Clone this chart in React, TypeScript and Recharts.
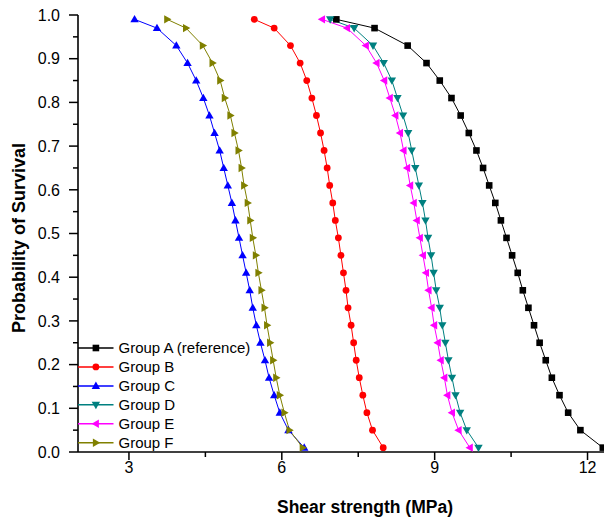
import { LineChart, Line, XAxis, YAxis, Legend } from 'recharts';

// survival probability of each ranked specimen (same for every group)
const PROB = [
  0.99, 0.97, 0.93, 0.89, 0.85, 0.81, 0.77, 0.73, 0.69, 0.65, 0.61, 0.57, 0.53,
  0.49, 0.45, 0.41, 0.37, 0.33, 0.29, 0.25, 0.21, 0.17, 0.13, 0.09, 0.05, 0.01,
];

// shear strength (MPa) per group, in the same order as PROB
const GROUP_A = [
  7.07, 7.82, 8.47, 8.84, 9.1, 9.33, 9.51, 9.67, 9.82, 9.95, 10.07, 10.19, 10.3,
  10.41, 10.52, 10.63, 10.73, 10.84, 10.95, 11.06, 11.18, 11.3, 11.45, 11.62, 11.86, 12.3,
];
const GROUP_B = [
  5.46, 5.85, 6.17, 6.36, 6.49, 6.59, 6.68, 6.76, 6.83, 6.89, 6.94, 7.0, 7.05,
  7.11, 7.16, 7.21, 7.26, 7.3, 7.36, 7.41, 7.46, 7.52, 7.59, 7.67, 7.78, 7.99,
];
const GROUP_C = [
  3.11, 3.55, 3.93, 4.15, 4.32, 4.46, 4.58, 4.68, 4.78, 4.86, 4.94, 5.02, 5.09,
  5.16, 5.23, 5.3, 5.37, 5.43, 5.5, 5.58, 5.67, 5.75, 5.85, 5.96, 6.13, 6.44,
];
const GROUP_D = [
  6.95, 7.42, 7.79, 8.0, 8.16, 8.27, 8.38, 8.48, 8.55, 8.62, 8.69, 8.76, 8.82,
  8.87, 8.93, 8.98, 9.03, 9.1, 9.15, 9.21, 9.27, 9.34, 9.41, 9.5, 9.63, 9.86,
];
const GROUP_E = [
  6.79, 7.28, 7.65, 7.86, 8.01, 8.12, 8.23, 8.32, 8.39, 8.46, 8.52, 8.59, 8.65,
  8.71, 8.77, 8.83, 8.88, 8.94, 8.99, 9.06, 9.12, 9.19, 9.25, 9.34, 9.47, 9.69,
];
const GROUP_F = [
  3.75, 4.12, 4.45, 4.64, 4.79, 4.88, 4.99, 5.07, 5.15, 5.21, 5.26, 5.33, 5.38,
  5.43, 5.49, 5.54, 5.6, 5.66, 5.71, 5.77, 5.83, 5.89, 5.96, 6.05, 6.15, 6.41,
];

const X_TICKS = [3, 4.5, 6, 7.5, 9, 10.5, 12];
const Y_TICKS = [
  0, 0.05, 0.1, 0.15, 0.2, 0.25, 0.3, 0.35, 0.4, 0.45, 0.5, 0.55, 0.6, 0.65, 0.7,
  0.75, 0.8, 0.85, 0.9, 0.95, 1,
];

const FONT = '"Liberation Sans", Arial, sans-serif';

type Shape = 'square' | 'circle' | 'up' | 'down' | 'left' | 'right';

const GROUPS: { name: string; color: string; shape: Shape; xs: number[] }[] = [
  { name: 'Group A (reference)', color: '#000000', shape: 'square', xs: GROUP_A },
  { name: 'Group B', color: '#FF0000', shape: 'circle', xs: GROUP_B },
  { name: 'Group C', color: '#0000FF', shape: 'up', xs: GROUP_C },
  { name: 'Group D', color: '#008080', shape: 'down', xs: GROUP_D },
  { name: 'Group E', color: '#FF00FF', shape: 'left', xs: GROUP_E },
  { name: 'Group F', color: '#808000', shape: 'right', xs: GROUP_F },
];

const toPoints = (xs: number[]) => xs.map((x, i) => ({ x, p: PROB[i] }));

function marker(shape: Shape, cx: number, cy: number, color: string, key?: string) {
  if (shape === 'square') {
    return <rect key={key} x={cx - 3.3} y={cy - 3.3} width={6.6} height={6.6} fill={color} />;
  }
  if (shape === 'circle') {
    return <circle key={key} cx={cx} cy={cy} r={3.4} fill={color} />;
  }
  let pts = '';
  if (shape === 'up') pts = `${cx},${cy - 4.3} ${cx - 4.2},${cy + 3} ${cx + 4.2},${cy + 3}`;
  if (shape === 'down') pts = `${cx},${cy + 4.3} ${cx - 4.2},${cy - 3} ${cx + 4.2},${cy - 3}`;
  if (shape === 'left') pts = `${cx - 4.3},${cy} ${cx + 3},${cy - 4.2} ${cx + 3},${cy + 4.2}`;
  if (shape === 'right') pts = `${cx + 4.3},${cy} ${cx - 3},${cy - 4.2} ${cx - 3},${cy + 4.2}`;
  return <polygon key={key} points={pts} fill={color} />;
}

const YTick = (props: any) => {
  const { x, y, payload } = props;
  const v = payload.value;
  const major = Math.abs(v * 10 - Math.round(v * 10)) < 1e-6;
  return (
    <g>
      <line x1={x} x2={x - (major ? 9 : 5)} y1={y} y2={y} stroke="#000" strokeWidth={1.5} />
      {major && (
        <text x={x - 18} y={y} dy="0.36em" textAnchor="end" fontSize={16} fontFamily={FONT} fill="#000">
          {v.toFixed(1)}
        </text>
      )}
    </g>
  );
};

const XTick = (props: any) => {
  const { x, y, payload } = props;
  const major = payload.value % 3 === 0;
  return (
    <g>
      <line x1={x} x2={x} y1={y} y2={y + (major ? 8 : 5)} stroke="#000" strokeWidth={1.5} />
      {major && (
        <text x={x} y={y + 21} textAnchor="middle" fontSize={16} fontFamily={FONT} fill="#000">
          {payload.value}
        </text>
      )}
    </g>
  );
};

const TopTick = (props: any) => {
  const { x, y } = props;
  return <line x1={x} x2={x} y1={y} y2={y - 3} stroke="#000" strokeWidth={1.5} />;
};

const renderLegend = () => (
  <svg width={200} height={120} style={{ display: 'block' }}>
    {GROUPS.map((g, i) => {
      const cy = 10 + i * 18.95;
      return (
        <g key={g.name}>
          <line x1={0} x2={35.5} y1={cy} y2={cy} stroke={g.color} strokeWidth={1.5} />
          {marker(g.shape, 17.9, cy, g.color)}
          <text x={40.5} y={cy} dy="0.36em" fontSize={15} fontFamily={FONT} fill="#000">
            {g.name}
          </text>
        </g>
      );
    })}
  </svg>
);

export default function App() {
  return (
    <div style={{ position: 'absolute', left: 0, top: 0, width: 604, height: 519, overflow: 'hidden', background: '#fff' }}>
      <LineChart width={620} height={519} margin={{ top: 15, right: 7, bottom: 0, left: 0 }}>
        <XAxis
          type="number"
          dataKey="x"
          domain={[2, 12.5]}
          ticks={X_TICKS}
          tick={<XTick />}
          tickLine={false}
          tickSize={0}
          tickMargin={0}
          height={67}
          axisLine={{ stroke: '#000', strokeWidth: 1.6 }}
          allowDataOverflow
          label={{
            content: () => (
              <text x={365} y={513} textAnchor="middle" fontSize={17.5} fontWeight="bold" fontFamily={FONT} fill="#000">
                Shear strength (MPa)
              </text>
            ),
          }}
        />
        <XAxis
          xAxisId="top"
          orientation="top"
          type="number"
          dataKey="x"
          domain={[2, 12.5]}
          ticks={X_TICKS}
          tick={<TopTick />}
          tickLine={false}
          tickSize={0}
          tickMargin={0}
          height={0}
          axisLine={{ stroke: '#000', strokeWidth: 1.6 }}
          allowDataOverflow
        />
        <YAxis
          type="number"
          dataKey="p"
          domain={[0, 1]}
          ticks={Y_TICKS}
          tick={<YTick />}
          tickLine={false}
          tickSize={0}
          tickMargin={0}
          width={78}
          interval={0}
          axisLine={{ stroke: '#000', strokeWidth: 1.6 }}
          allowDataOverflow
          label={{
            content: () => (
              <text
                x={25}
                y={238}
                transform="rotate(-90 25 238)"
                textAnchor="middle"
                fontSize={18}
                fontWeight="bold"
                fontFamily={FONT}
                fill="#000"
              >
                Probability of Survival
              </text>
            ),
          }}
        />
        <Legend
          layout="vertical"
          align="center"
          verticalAlign="middle"
          wrapperStyle={{ left: 78, top: 338.3, width: 200 }}
          content={renderLegend}
        />
        {GROUPS.map((g) => (
          <Line
            key={g.name}
            data={toPoints(g.xs)}
            dataKey="p"
            name={g.name}
            stroke={g.color}
            strokeWidth={1}
            isAnimationActive={false}
            activeDot={false}
            dot={(d: any) => marker(g.shape, d.cx, d.cy, g.color, `${g.name}-${d.index}`)}
          />
        ))}
      </LineChart>
    </div>
  );
}
